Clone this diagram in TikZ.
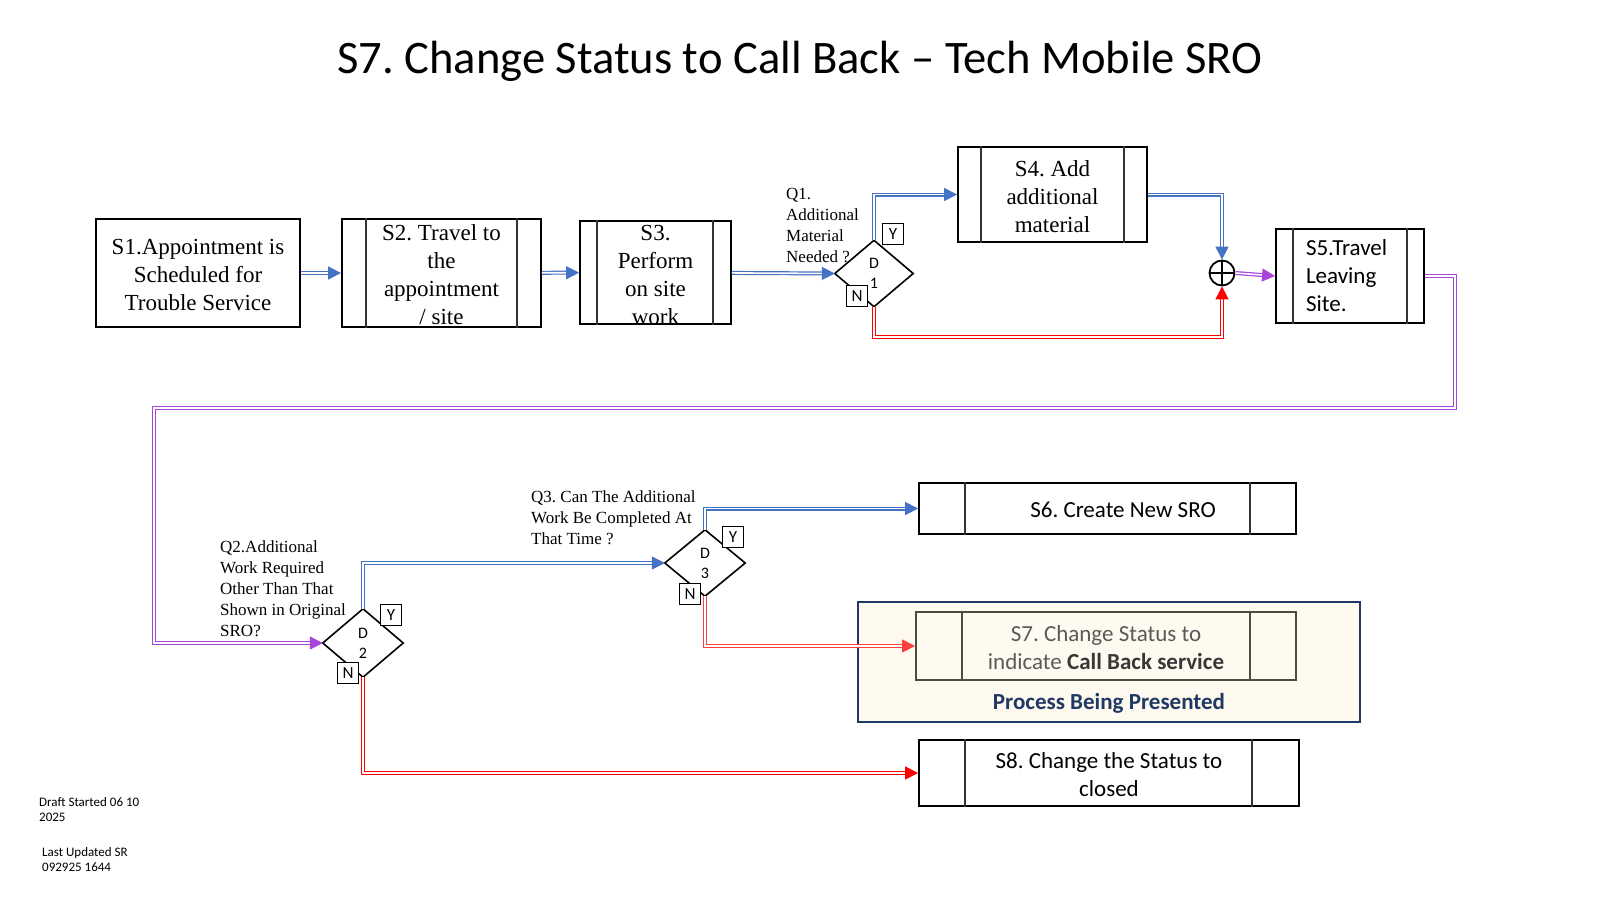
\documentclass[tikz,border=0pt]{standalone}
\usepackage{fontspec}
\setmainfont{Liberation Serif}
\newfontfamily\carlito{Carlito}
\newfontfamily\tnr{Liberation Serif}
\usetikzlibrary{arrows.meta,calc}
\definecolor{flowblue}{HTML}{4472C4}
\definecolor{flowred}{HTML}{FF0000}
\definecolor{flowredlight}{HTML}{FF4040}
\definecolor{flowpurple}{HTML}{A845DB}
\definecolor{navy}{HTML}{1F3864}
\definecolor{cream}{HTML}{FEFAEF}
\definecolor{s7edge}{HTML}{4F4A3E}
\definecolor{s7text}{HTML}{5A5A5A}
\definecolor{s7bold}{HTML}{383838}
\frenchspacing
% lower a block of text without changing its reported size
\newcommand\dropText[2]{\raisebox{-#1}[\height][\depth]{#2}}
\begin{document}
\begin{tikzpicture}[x=1pt,y=-1pt,
  procbox/.style={draw=black, line width=1.8pt, inner sep=0pt, align=center},
  serifbox/.style={procbox, font=\tnr\fontsize{23}{28}\selectfont},
  sansbox/.style={procbox, font=\carlito\fontsize{23}{28}\selectfont},
  bar/.style={draw=black!80, line width=1.3pt},
  tag/.style={draw=black, line width=1.5pt, fill=white, minimum size=21pt, inner sep=0pt, font=\carlito\fontsize{17}{17}\selectfont},
  dbox/.style={inner sep=0pt, align=center, font=\carlito\fontsize{16}{20}\selectfont},
  diamline/.style={draw=black, line width=1.6pt, line join=miter},
  question/.style={anchor=north west, inner sep=0pt, align=left, font=\tnr\fontsize{17}{21}\selectfont},
  conn/.style={draw=#1, line width=1.2pt, double=white, double distance=1.6pt, -{Triangle[length=13pt,width=13pt]}},
  footnote/.style={anchor=north west, inner sep=0pt, align=left, font=\carlito\fontsize{13}{15.5}\selectfont},
]
\useasboundingbox (0,0) rectangle (1600,900);

% title
\node[font=\carlito\fontsize{46.6}{50}\selectfont, anchor=base, inner sep=0pt] (title) at (800,73) {S7. Change Status to Call Back – Tech Mobile SRO};

% top row of process steps
\node[serifbox, minimum width=204pt, minimum height=108pt] (s1) at (198,273) {\dropText{2pt}{\parbox{200pt}{\centering S1.Appointment is\\Scheduled for\\Trouble Service}}};
\node[serifbox, minimum width=199pt, minimum height=108pt] (s2) at (441.5,273) {\dropText{2pt}{\parbox{190pt}{\centering S2. Travel to\\the\\appointment\\/ site}}};
\node[serifbox, minimum width=151pt, minimum height=103pt] (s3) at (655.5,272.5) {\dropText{2pt}{\parbox{140pt}{\centering S3.\\Perform\\on site\\work}}};
\node[serifbox, minimum width=189pt, minimum height=95pt] (s4) at (1052.5,194.5) {\dropText{2pt}{\parbox{180pt}{\centering S4. Add\\additional\\material}}};
\node[sansbox, minimum width=148pt, minimum height=94pt, text width=88pt, align=left] (s5) at (1350,276) {S5.Travel\\Leaving\\Site.};

\draw[bar] ([xshift=25pt]s2.north west) -- ([xshift=25pt]s2.south west);
\draw[bar] ([xshift=-25pt]s2.north east) -- ([xshift=-25pt]s2.south east);
\draw[bar] ([xshift=18pt]s3.north west) -- ([xshift=18pt]s3.south west);
\draw[bar] ([xshift=-19pt]s3.north east) -- ([xshift=-19pt]s3.south east);
\draw[bar] ([xshift=24pt]s4.north west) -- ([xshift=24pt]s4.south west);
\draw[bar] ([xshift=-24pt]s4.north east) -- ([xshift=-24pt]s4.south east);
\draw[bar] ([xshift=18pt]s5.north west) -- ([xshift=18pt]s5.south west);
\draw[bar] ([xshift=-18pt]s5.north east) -- ([xshift=-18pt]s5.south east);

% junction
\node[circle, draw=black, line width=1.8pt, minimum size=25pt, inner sep=0pt] (plus) at (1222,273) {};
\draw[black, line width=1.5pt] (plus.north) -- (plus.south) (plus.west) -- (plus.east);

% lower right steps
\node[procbox, fill=cream, draw=navy, minimum width=502pt, minimum height=120pt] (hl) at (1109,662) {};
\node[procbox, minimum width=377pt, minimum height=51pt] (s6) at (1107.5,508.5) {};
\node[inner sep=0pt, font=\carlito\fontsize{23}{28}\selectfont] (s6txt) at (1123,509.5) {S6. Create New SRO};
\node[procbox, draw=s7edge, text=s7text, minimum width=380pt, minimum height=68pt, font=\carlito\fontsize{23}{28}\selectfont] (s7) at (1106,646) {\dropText{1.5pt}{\parbox{360pt}{\centering S7. Change Status to\\indicate {\color{s7bold}\bfseries Call Back service}}}};
\node[inner sep=0pt, text=navy, font=\carlito\bfseries\fontsize{23}{28}\selectfont] (hltxt) at (1109,703.5) {Process Being Presented};
\node[sansbox, minimum width=380pt, minimum height=66pt] (s8) at (1109,773) {\dropText{1.5pt}{\parbox{360pt}{\centering S8. Change the Status to\\closed}}};

\draw[bar] ([xshift=47pt]s6.north west) -- ([xshift=47pt]s6.south west);
\draw[bar] ([xshift=-47pt]s6.north east) -- ([xshift=-47pt]s6.south east);
\draw[bar, draw=s7edge] ([xshift=47pt]s7.north west) -- ([xshift=47pt]s7.south west);
\draw[bar, draw=s7edge] ([xshift=-47pt]s7.north east) -- ([xshift=-47pt]s7.south east);
\draw[bar] ([xshift=47pt]s8.north west) -- ([xshift=47pt]s8.south west);
\draw[bar] ([xshift=-48pt]s8.north east) -- ([xshift=-48pt]s8.south east);

% decisions
\node[dbox, minimum width=78pt, minimum height=66pt] (d1) at (874,273.5) {D\\1};
\node[dbox, minimum width=80pt, minimum height=68pt] (d2) at (363,643) {D\\2};
\node[dbox, minimum width=80pt, minimum height=66pt] (d3) at (705,563) {D\\3};
\foreach \d in {d1,d2,d3}
  \draw[diamline] (\d.north) -- (\d.east) -- (\d.south) -- (\d.west) -- cycle;

% questions
\node[question] (q1) at (786,188) {Q1.\\Additional\\Material\\Needed ?};
\node[question] (q2) at (220,540) {Q2.Additional\\Work Required\\Other Than That\\Shown in Original\\SRO?};
\node[question] (q3) at (531,490) {Q3. Can The Additional\\Work Be Completed At\\That Time ?};

% connectors
\coordinate (r1) at (1455,408);
\coordinate (r2) at (154,408);
\draw[conn=flowblue] (s1) -- (s2);
\draw[conn=flowblue] (s2) -- (s3);
\draw[conn=flowblue] (s3) -- (d1.west);
\draw[conn=flowblue] (d1.north) |- (s4.west);
\draw[conn=flowred] (d1.south) -- ++(0,30.5) -| (plus.south);
\draw[conn=flowblue] (s4.east) -| (plus.north);
\draw[conn=flowpurple] (plus.east) -- (s5.west);
\draw[conn=flowpurple] (s5.east) -| (r1) -- (r2) |- (d2.west);
\draw[conn=flowblue] (d2.north) |- (d3.west);
\draw[conn=flowred] (d2.south) |- (s8.west);
\draw[conn=flowblue] (d3.north) |- (s6.west);
\draw[conn=flowredlight] (d3.south) |- (s7.west);

% yes / no tags
\node[tag] (y1) at (893,234) {Y};
\node[tag] (n1) at (857,296) {N};
\node[tag] (y2) at (391,615) {Y};
\node[tag] (n2) at (348,673) {N};
\node[tag] (y3) at (733,537) {Y};
\node[tag] (n3) at (690,594) {N};

% footer notes
\node[footnote] (draft) at (39,797) {Draft Started 06 10\\2025};
\node[footnote] (upd) at (42,847) {Last Updated SR\\092925 1644};
\end{tikzpicture}
\end{document}
